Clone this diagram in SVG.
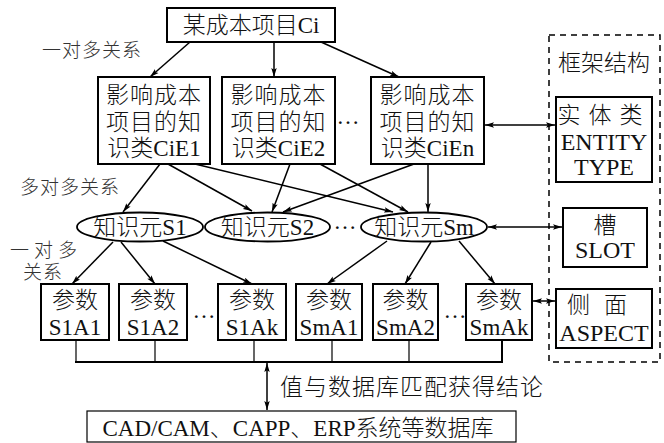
<svg xmlns="http://www.w3.org/2000/svg" width="664" height="443" viewBox="0 0 664 443">
<defs>
<marker id="ah" viewBox="0 0 10 6" refX="10" refY="3" markerWidth="9" markerHeight="6" markerUnits="userSpaceOnUse" orient="auto-start-reverse">
<path d="M0,0 L10,3 L0,6 L2,3 z" fill="#000"/>
</marker>
<style>
text{font-family:"Liberation Serif","Noto Sans CJK SC",serif;font-size:23px;font-weight:300;fill:#111;text-anchor:middle}
.lat{font-size:24px}
.lbl{font-size:19px;fill:#333;text-anchor:start}
.box{fill:#fff;stroke:#000;stroke-width:2}
.ell{fill:#fff;stroke:#000;stroke-width:1.8}
.c{fill:none;stroke:#000;stroke-width:1.5}
.ca{fill:none;stroke:#000;stroke-width:1.5;marker-end:url(#ah)}
.cd{fill:none;stroke:#000;stroke-width:1.5;marker-start:url(#ah);marker-end:url(#ah)}
.thin{fill:none;stroke:#000;stroke-width:1.2}
</style>
</defs>
<rect width="664" height="443" fill="#fff"/>

<g id="connectors">
<line class="ca" x1="190" y1="42" x2="150" y2="77"/>
<line class="ca" x1="274" y1="42" x2="274" y2="77"/>
<line class="ca" x1="321" y1="42" x2="399" y2="77"/>
<line class="ca" x1="160" y1="164" x2="123" y2="212"/>
<line class="ca" x1="168" y1="164" x2="252" y2="211"/>
<line class="ca" x1="195" y1="164" x2="393" y2="212"/>
<line class="ca" x1="290" y1="164" x2="272" y2="212"/>
<line class="ca" x1="320" y1="164" x2="408" y2="212"/>
<line class="ca" x1="414" y1="164" x2="283" y2="212"/>
<line class="ca" x1="428" y1="164" x2="428" y2="212"/>
<line class="ca" x1="113" y1="242" x2="72" y2="284"/>
<line class="ca" x1="121" y1="242" x2="155" y2="284"/>
<line class="ca" x1="163" y1="241" x2="252" y2="284"/>
<line class="ca" x1="387" y1="241" x2="327" y2="284"/>
<line class="ca" x1="431" y1="242" x2="405" y2="284"/>
<line class="ca" x1="459" y1="241" x2="495" y2="284"/>
<line class="cd" x1="485" y1="125" x2="555" y2="125"/>
<line class="cd" x1="488" y1="227" x2="562" y2="227"/>
<line class="cd" x1="533" y1="301" x2="555" y2="301"/>
<line class="thin" x1="76" y1="340" x2="76" y2="362"/>
<line class="thin" x1="155" y1="340" x2="155" y2="362"/>
<line class="thin" x1="254" y1="340" x2="254" y2="362"/>
<line class="thin" x1="332" y1="340" x2="332" y2="362"/>
<line class="thin" x1="409" y1="340" x2="409" y2="362"/>
<line class="c" x1="502" y1="340" x2="502" y2="362" style="stroke-width:2"/>
<line class="c" x1="75" y1="362" x2="503" y2="362" style="stroke-width:2"/>
<line class="cd" x1="267" y1="363" x2="267" y2="410"/>
</g>

<g id="frame">
<rect x="549" y="35" width="111" height="327" fill="none" stroke="#000" stroke-width="1.5" stroke-dasharray="6,5"/>
<text x="604" y="71">框架结构</text>
</g>

<g id="top">
<rect class="box" x="167" y="8" width="168" height="34"/>
<text x="251" y="33">某成本项目Ci</text>
</g>

<g id="cie1">
<rect class="box" x="98" y="77" width="112" height="87"/>
<text x="154" y="103" letter-spacing="1">影响成本</text>
<text x="154" y="130" letter-spacing="1">项目的知</text>
<text x="154" y="156">识类CiE1</text>
</g>
<g id="cie2">
<rect class="box" x="222" y="77" width="113" height="87"/>
<text x="278.5" y="103" letter-spacing="1">影响成本</text>
<text x="278.5" y="130" letter-spacing="1">项目的知</text>
<text x="278.5" y="156">识类CiE2</text>
</g>
<text x="348" y="124">…</text>
<g id="cien">
<rect class="box" x="371" y="77" width="113" height="87"/>
<text x="427.5" y="103" letter-spacing="1">影响成本</text>
<text x="427.5" y="130" letter-spacing="1">项目的知</text>
<text x="427.5" y="156">识类CiEn</text>
</g>

<g id="entity">
<rect class="box" x="556" y="97" width="96" height="85"/>
<text x="604" y="123" letter-spacing="8">实体类</text>
<text class="lat" x="604" y="150">ENTITY</text>
<text class="lat" x="604" y="175">TYPE</text>
</g>
<g id="slot">
<rect class="box" x="563" y="208" width="84" height="59"/>
<text x="605" y="233">槽</text>
<text class="lat" x="605" y="258">SLOT</text>
</g>
<g id="aspect">
<rect class="box" x="556" y="289" width="96" height="59"/>
<text x="604" y="313" letter-spacing="14">侧面</text>
<text class="lat" x="604" y="341">ASPECT</text>
</g>

<g id="s1">
<ellipse class="ell" cx="140" cy="227" rx="63" ry="14.5"/>
<text x="140" y="235">知识元S1</text>
</g>
<g id="s2">
<ellipse class="ell" cx="267.5" cy="227" rx="62.5" ry="14.5"/>
<text x="267.5" y="235">知识元S2</text>
</g>
<text x="345" y="229">…</text>
<g id="sm">
<ellipse class="ell" cx="424" cy="227" rx="63" ry="14.5"/>
<text x="424" y="235">知识元Sm</text>
</g>

<g id="s1a1">
<rect class="box" x="41" y="284" width="68" height="56"/>
<text x="75" y="308">参数</text>
<text x="75" y="335">S1A1</text>
</g>
<g id="s1a2">
<rect class="box" x="119" y="284" width="68" height="56"/>
<text x="153" y="308">参数</text>
<text x="153" y="335">S1A2</text>
</g>
<text x="204" y="318">…</text>
<g id="s1ak">
<rect class="box" x="218" y="284" width="68" height="56"/>
<text x="252" y="308">参数</text>
<text x="252" y="335">S1Ak</text>
</g>
<g id="sma1">
<rect class="box" x="296" y="284" width="66" height="56"/>
<text x="329" y="308">参数</text>
<text x="329" y="335">SmA1</text>
</g>
<g id="sma2">
<rect class="box" x="373" y="284" width="65" height="56"/>
<text x="405.5" y="308">参数</text>
<text x="405.5" y="335">SmA2</text>
</g>
<text x="455" y="318">…</text>
<g id="smak">
<rect class="box" x="466" y="284" width="66" height="56"/>
<text x="499" y="308">参数</text>
<text x="499" y="335">SmAk</text>
</g>

<g id="db">
<rect x="87" y="411" width="429" height="31" fill="#fff" stroke="#000" stroke-width="1.2"/>
<text x="298" y="436">CAD/CAM、CAPP、ERP系统等数据库</text>
</g>

<g id="labels">
<text class="lbl" x="42" y="57" letter-spacing="1">一对多关系</text>
<text class="lbl" x="20" y="194" letter-spacing="1">多对多关系</text>
<text class="lbl" x="10" y="257" letter-spacing="5">一对多</text>
<text class="lbl" x="23" y="279" letter-spacing="1">关系</text>
<text x="280" y="395" style="text-anchor:start" letter-spacing="1">值与数据库匹配获得结论</text>
</g>
</svg>
